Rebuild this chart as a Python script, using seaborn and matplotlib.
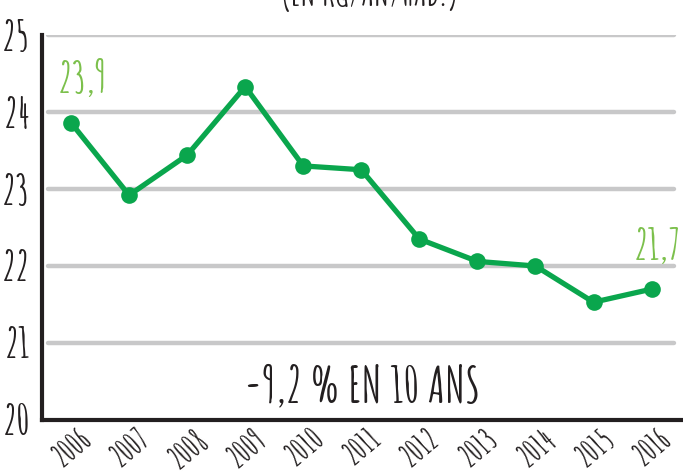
import matplotlib
matplotlib.use("Agg")
import matplotlib.pyplot as plt
import seaborn as sns
import pandas as pd
import numpy as np

years = ["2006", "2007", "2008", "2009", "2010", "2011", "2012", "2013", "2014", "2015", "2016"]
values = [23.86, 22.92, 23.44, 24.33, 23.30, 23.25, 22.35, 22.06, 22.00, 21.53, 21.70]
yticks = [20, 21, 22, 23, 24, 25]
first_label = "23,9"
last_label = "21,7"
note = "-9,2 % EN 10 ANS"
subtitle = "(EN KG/AN/HAB.)"

sns.set_theme(style="white")
fam = ["Amatic SC", "DejaVu Sans"]
plt.rcParams["font.family"] = fam
plt.rcParams["font.weight"] = "bold"

df = pd.DataFrame({"year": years, "value": values})
df["x"] = np.arange(len(years))

fig = plt.figure(figsize=(6.83, 4.73), dpi=100)
ax = fig.add_axes([0.0615, 0.112, 0.935, 0.814])

for y in yticks[1:]:
    ax.axhline(y, color="#c8c8c9", lw=3.2, zorder=0, xmin=0.01, xmax=0.99)

sns.lineplot(data=df, x="x", y="value", ax=ax, color="#0aa64d", lw=3.8,
             marker="o", markersize=12, markeredgewidth=0, zorder=3)

ax.set_xlim(-0.5, 10.5)
ax.set_ylim(20, 25)
ax.set_xticks(range(len(years)))
ax.set_xticklabels(years, rotation=40, ha="center", va="top", fontsize=23, color="#231f20")
ax.set_xticks(np.arange(-0.5, 10.6, 1), minor=True)
ax.tick_params(axis="x", which="major", length=0, pad=3)
ax.tick_params(axis="x", which="minor", direction="in", length=5, width=2.5, color="#231f20")
ax.set_yticks(yticks)
ax.set_yticklabels([str(v) for v in yticks], fontsize=30, color="#231f20")
ax.tick_params(axis="y", length=0, pad=9)
ax.set_xlabel("")
ax.set_ylabel("")

for s in ["top", "right"]:
    ax.spines[s].set_visible(False)
ax.spines["left"].set_linewidth(3)
ax.spines["bottom"].set_linewidth(3)
ax.spines["left"].set_color("#231f20")
ax.spines["bottom"].set_color("#231f20")

ax.text(0.2, 24.45, first_label, color="#7cc04c", fontsize=31, ha="center", va="center")
ax.text(10.1, 22.26, last_label, color="#7cc04c", fontsize=31, ha="center", va="center")
ax.text(5.02, 20.45, note, color="#231f20", fontsize=35, ha="center", va="center")
fig.text(0.542, 1.012, subtitle, color="#231f20", fontsize=26, ha="center", va="center")

fig.savefig("out.png", dpi=100)
